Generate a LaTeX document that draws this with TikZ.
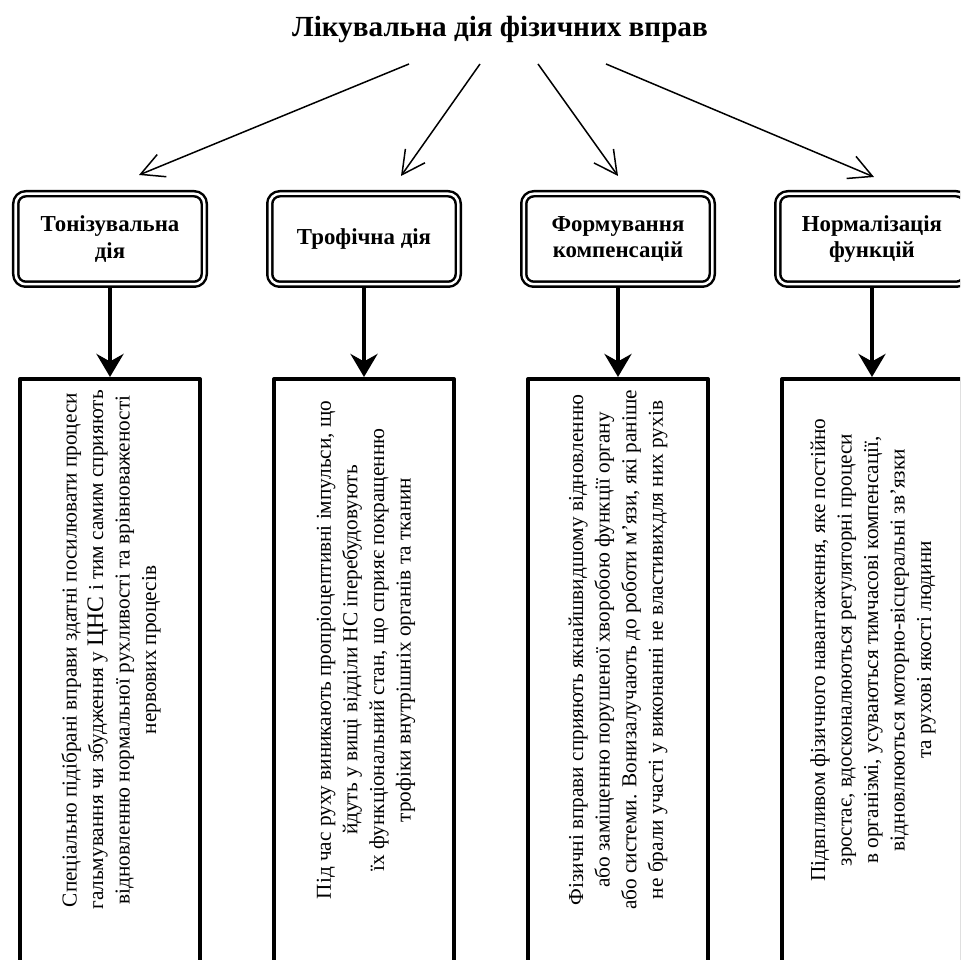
\documentclass[tikz,border=0pt]{standalone}
\usepackage{fontspec}
\setmainfont{Liberation Serif}
\usetikzlibrary{arrows.meta}
\tikzset{
	vid/.style={draw, double, line width=0.05cm, double distance=0.05cm, rounded corners=0.2cm, minimum width=3.77cm, minimum height=1.81cm, align=center, outer sep=0.075cm, font=\fontsize{13}{15.3}\selectfont\bfseries},
	opys/.style={draw, line width=0.08cm, minimum width=3.6cm, minimum height=13cm, anchor=north, outer sep=0.04cm},
	tekst/.style={rotate=90, align=center, font=\fontsize{12.1}{15.1}\selectfont},
	strilka/.style={-{Straight Barb[length=0.46cm,width=0.48cm]}, line width=0.03cm},
	tovsta/.style={-{Stealth[length=0.46cm,width=0.54cm]}, line width=0.08cm}
}
\begin{document}
\begin{tikzpicture}[line join=round]
	\clip (0,0) rectangle (19.2,19.2);
	\node[font=\fontsize{16.6}{20}\selectfont\bfseries] (title) at (10,18.6) {Лікувальна дія фізичних вправ};
	% види дії
	\node[vid] (ton) at (2.2,14.42) {Тонізувальна\\дія};
	\node[vid] (trof) at (7.28,14.42) {Трофічна дія};
	\node[vid] (komp) at (12.36,14.42) {Формування\\компенсацій};
	\node[vid] (norm) at (17.44,14.42) {Нормалізація\\функцій};
	% описи
	\node[opys] (ton-b) at (2.2,11.66) {};
	\node[opys] (trof-b) at (7.28,11.66) {};
	\node[opys] (komp-b) at (12.36,11.66) {};
	\node[opys] (norm-b) at (17.44,11.66) {};
	\node[tekst] (ton-t) at (2.22,6.2) {Спеціально підібрані вправи здатні посилювати процеси\\гальмування чи збудження у {\fontsize{13.5}{15}\selectfont ЦНС} і тим самим сприяють\\відновленню нормальної рухливості та врівноваженості\\нервових процесів};
	\node[tekst] (trof-t) at (7.32,6.2) {Під час руху виникають пропріоцептивні імпульси, що\\йдуть у вищі відділи НС іперебудовують\\їх функціональний стан, що сприяє покращенню\\трофіки внутрішніх органів та тканин};
	\node[tekst] (komp-t) at (12.36,6.2) {Фізичні вправи сприяють якнайшвидшому відновленню\\або заміщенню порушеної хворобою функції органу\\або системи. Вонизалучають до роботи м’язи, які раніше\\не брали участі у виконанні не властивихдля них рухів};
	\node[tekst] (norm-t) at (17.46,6.2) {Підвпливом фізичного навантаження, яке постійно\\зростає, вдосконалюються регуляторні процеси\\в організмі, усуваються тимчасові компенсації,\\відновлюються моторно-вісцеральні зв’язки\\та рухові якості людини};
	% стрілки
	\coordinate (s1) at (8.18,17.92);
	\coordinate (s2) at (9.6,17.92);
	\coordinate (s3) at (10.76,17.92);
	\coordinate (s4) at (12.12,17.92);
	\draw[strilka] (s1) -- ([xshift=0.58cm,yshift=0.3cm]ton.north);
	\draw[strilka] (s2) -- ([xshift=0.74cm,yshift=0.28cm]trof.north);
	\draw[strilka] (s3) -- ([yshift=0.28cm]komp.north);
	\draw[strilka] (s4) -- ([xshift=0.04cm,yshift=0.26cm]norm.north);
	\draw[tovsta] (ton) -- (ton-b);
	\draw[tovsta] (trof) -- (trof-b);
	\draw[tovsta] (komp) -- (komp-b);
	\draw[tovsta] (norm) -- (norm-b);
\end{tikzpicture}
\end{document}
